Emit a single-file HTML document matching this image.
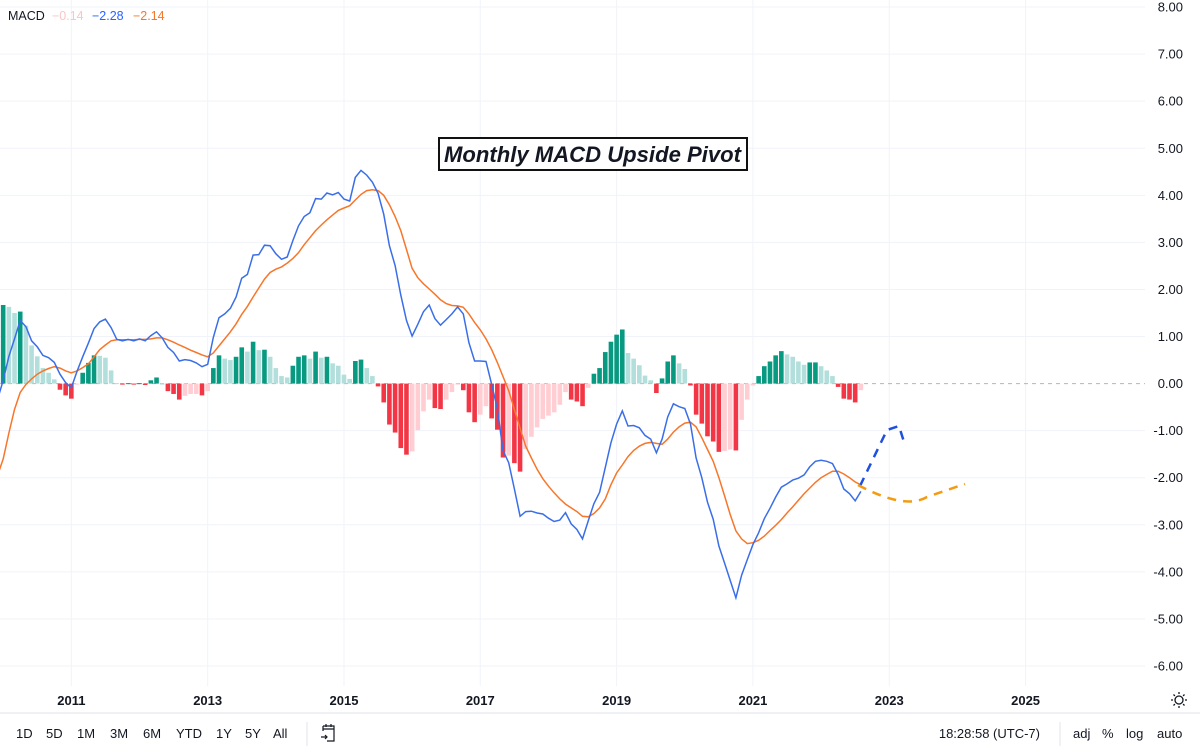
<!DOCTYPE html>
<html><head><meta charset="utf-8">
<style>
html,body{margin:0;padding:0;background:#fff;width:1200px;height:750px;overflow:hidden;font-family:"Liberation Sans",sans-serif;color:#131722}
svg{position:absolute;left:0;top:0}
</style></head>
<body>
<svg id="chart" width="1200" height="750"></svg>
<script>
const hist = [1.61,1.67,1.63,1.50,1.53,1.23,0.81,0.58,0.33,0.23,0.09,-0.13,-0.25,-0.32,-0.01,0.23,0.44,0.60,0.59,0.55,0.28,0.01,-0.02,0.01,-0.02,0.01,-0.03,0.07,0.13,0.00,-0.16,-0.22,-0.34,-0.26,-0.22,-0.22,-0.25,-0.16,0.33,0.60,0.53,0.50,0.57,0.77,0.68,0.89,0.71,0.72,0.57,0.33,0.16,0.13,0.38,0.57,0.60,0.53,0.68,0.55,0.57,0.43,0.38,0.19,0.10,0.48,0.51,0.33,0.16,-0.06,-0.40,-0.87,-1.04,-1.37,-1.51,-1.44,-0.99,-0.59,-0.34,-0.52,-0.54,-0.34,-0.18,-0.02,-0.14,-0.61,-0.82,-0.66,-0.48,-0.74,-0.98,-1.57,-1.53,-1.69,-1.87,-1.39,-1.13,-0.93,-0.75,-0.68,-0.61,-0.45,-0.18,-0.34,-0.38,-0.48,-0.09,0.21,0.33,0.67,0.89,1.04,1.15,0.65,0.53,0.39,0.17,0.07,-0.20,0.11,0.47,0.60,0.43,0.31,-0.04,-0.66,-0.85,-1.12,-1.23,-1.45,-1.43,-1.40,-1.42,-0.77,-0.34,-0.04,0.16,0.37,0.47,0.60,0.69,0.62,0.57,0.47,0.40,0.45,0.45,0.37,0.28,0.16,-0.07,-0.32,-0.34,-0.40,-0.14];
const macd = [-0.34,0.07,0.58,0.95,1.34,1.21,0.91,0.78,0.60,0.55,0.45,0.20,0.02,-0.09,0.26,0.57,0.86,1.17,1.31,1.37,1.19,0.94,0.91,0.94,0.91,0.95,0.91,1.02,1.10,0.97,0.77,0.66,0.48,0.51,0.49,0.44,0.36,0.41,0.98,1.40,1.48,1.60,1.84,2.24,2.32,2.73,2.74,2.94,2.93,2.76,2.64,2.69,3.04,3.35,3.55,3.63,3.93,3.92,4.05,4.01,4.06,3.92,3.88,4.38,4.53,4.43,4.28,4.04,3.60,2.93,2.51,1.88,1.34,1.01,1.26,1.53,1.67,1.38,1.24,1.36,1.48,1.63,1.48,0.87,0.48,0.48,0.47,-0.02,-0.53,-1.42,-1.68,-2.24,-2.82,-2.72,-2.71,-2.75,-2.77,-2.86,-2.93,-2.90,-2.74,-2.98,-3.10,-3.30,-2.92,-2.55,-2.31,-1.78,-1.26,-0.86,-0.58,-0.90,-0.89,-0.94,-1.10,-1.18,-1.47,-1.18,-0.71,-0.43,-0.49,-0.53,-0.86,-1.58,-2.00,-2.52,-2.88,-3.45,-3.81,-4.18,-4.55,-4.07,-3.74,-3.42,-3.17,-2.87,-2.65,-2.41,-2.20,-2.13,-2.05,-2.01,-1.94,-1.77,-1.65,-1.63,-1.65,-1.70,-1.93,-2.24,-2.34,-2.49,-2.29];
const signal = [-1.95,-1.60,-1.05,-0.55,-0.19,-0.02,0.10,0.20,0.27,0.32,0.36,0.33,0.27,0.23,0.27,0.34,0.42,0.57,0.72,0.82,0.91,0.93,0.93,0.93,0.93,0.94,0.94,0.95,0.97,0.97,0.93,0.88,0.82,0.77,0.71,0.66,0.61,0.57,0.65,0.80,0.95,1.10,1.27,1.47,1.64,1.84,2.03,2.22,2.36,2.43,2.48,2.56,2.66,2.78,2.95,3.10,3.25,3.37,3.48,3.58,3.68,3.73,3.78,3.90,4.02,4.10,4.12,4.10,4.00,3.80,3.55,3.25,2.85,2.45,2.25,2.12,2.01,1.90,1.78,1.70,1.66,1.65,1.62,1.48,1.30,1.14,0.95,0.72,0.45,0.15,-0.15,-0.55,-0.95,-1.33,-1.58,-1.82,-2.02,-2.18,-2.32,-2.45,-2.56,-2.64,-2.72,-2.82,-2.83,-2.76,-2.64,-2.45,-2.15,-1.90,-1.73,-1.55,-1.42,-1.33,-1.27,-1.25,-1.27,-1.29,-1.18,-1.03,-0.92,-0.84,-0.82,-0.92,-1.15,-1.40,-1.65,-2.00,-2.38,-2.78,-3.13,-3.30,-3.40,-3.38,-3.33,-3.24,-3.12,-3.01,-2.89,-2.75,-2.62,-2.48,-2.34,-2.22,-2.10,-2.00,-1.93,-1.86,-1.86,-1.92,-2.00,-2.09,-2.15];
const yTicks = [8,7,6,5,4,3,2,1,0,-1,-2,-3,-4,-5,-6];
const yearLabels = ["2011","2013","2015","2017","2019","2021","2023","2025"];
const firstYear = 2009; const firstMonth = 11; // index 0 = Dec 2009

const NS = "http://www.w3.org/2000/svg";
const svg = document.getElementById("chart");
function xMonth(i){ return -2.5 + 5.68 * i; }
function xYear(y){ return xMonth((y - firstYear) * 12 - firstMonth); }
function yVal(v){ return 383.6 - v * 47.07; }
function mk(tag, attrs, parent){ const e=document.createElementNS(NS,tag); for(const k in attrs) e.setAttribute(k,attrs[k]); (parent||svg).appendChild(e); return e; }

// grid
const grid = mk("g",{});


yTicks.forEach(v=>{ if(v!==0) mk("line",{x1:0,x2:1145,y1:yVal(v),y2:yVal(v),stroke:"#f0f3fa","stroke-width":1},grid); });
yearLabels.forEach(y=>{ const x=xYear(+y); mk("line",{x1:x,x2:x,y1:0,y2:686,stroke:"#f0f3fa","stroke-width":1},grid); });
mk("line",{x1:0,x2:1145,y1:yVal(0),y2:yVal(0),stroke:"#b2b5be","stroke-width":1,"stroke-dasharray":"4,4"},grid);

// histogram
const hg = mk("g",{});


hist.forEach((v,i)=>{
  const prev = i>0 ? hist[i-1] : v;
  let c;
  if(v>=0) c = v>=prev ? "#089981" : "#b2dfdb";
  else c = v<prev ? "#f23645" : "#ffcdd2";
  const y0=yVal(0), y1=yVal(v);
  const r = mk("rect",{x:xMonth(i)-2.3,y:Math.min(y0,y1),width:4.6,height:Math.max(1,Math.abs(y1-y0)),fill:c},hg);
  
  
});

function linePath(arr){ return arr.map((v,i)=>(i?"L":"M")+xMonth(i).toFixed(1)+","+yVal(v).toFixed(1)).join(" "); }
const sig = mk("path",{d:linePath(signal),fill:"none",stroke:"#f7762a","stroke-width":1.5});


const ml = mk("path",{d:linePath(macd),fill:"none",stroke:"#3a6ee8","stroke-width":1.5});



// projections (annotations)
const pb = mk("path",{d:"M860,486 L887,430 L899,426 L904,442",fill:"none",stroke:"#1f4fe0","stroke-width":2.5,"stroke-dasharray":"9,7"});


const po = mk("path",{d:"M858,485 Q905,510 927,497 Q947,490 965,484",fill:"none",stroke:"#f39c12","stroke-width":2.5,"stroke-dasharray":"9,7"});



// y-axis labels
const ya = mk("g",{});


yTicks.forEach(v=>{
  const t = mk("text",{x:1183,y:yVal(v)+4.5,"text-anchor":"end","font-size":"13",fill:"#131722"},ya);
  t.textContent = v.toFixed(2);
  
  
});
// x-axis labels
const xa = mk("g",{});


yearLabels.forEach(y=>{
  const t = mk("text",{x:xYear(+y),y:705,"text-anchor":"middle","font-size":"13","font-weight":"bold",fill:"#131722"},xa);
  t.textContent = y;
  
  
});
</script>
<svg width="1200" height="750" style="pointer-events:none">
  <g font-size="12.5">
    <text x="8" y="20" fill="#131722">MACD</text>
    <text x="52" y="20" fill="#f9c5c8">−0.14</text>
    <text x="92" y="20" fill="#2962ff">−2.28</text>
    <text x="133" y="20" fill="#f7762a">−2.14</text>
  </g>
  <g>
    <rect x="439" y="138" width="308" height="32" fill="#fff" stroke="#111" stroke-width="2"/>
    <text x="444" y="162" font-size="22" font-weight="bold" font-style="italic" fill="#131722" textLength="297" lengthAdjust="spacingAndGlyphs">Monthly MACD Upside Pivot</text>
  </g>
  <g stroke="#131722" fill="none" stroke-width="1.3">
    <circle cx="1179" cy="700" r="4"/>
    <path d="M1179,692v2 M1179,706v2 M1171,700h2 M1185,700h2 M1173.5,694.5l1.4,1.4 M1183.1,704.1l1.4,1.4 M1173.5,705.5l1.4,-1.4 M1183.1,695.9l1.4,-1.4"/>
  </g>
  <line x1="0" y1="713" x2="1200" y2="713" stroke="#e0e3eb"/>
  <g font-size="13" fill="#131722">
    <text x="16" y="738">1D</text>
    <text x="46" y="738">5D</text>
    <text x="77" y="738">1M</text>
    <text x="110" y="738">3M</text>
    <text x="143" y="738">6M</text>
    <text x="176" y="738">YTD</text>
    <text x="216" y="738">1Y</text>
    <text x="245" y="738">5Y</text>
    <text x="273" y="738">All</text>
  </g>
  <line x1="307" y1="722" x2="307" y2="746" stroke="#e0e3eb"/>
  <g stroke="#131722" fill="none" stroke-width="1.2">
    <path d="M323,726h11v15h-7 M323,726v5 M323,729h11 M326,724v3 M331,724v3 M321,737h6 M325,735l2,2l-2,2"/>
  </g>
  <text x="1040" y="738" text-anchor="end" font-size="13" fill="#131722">18:28:58 (UTC-7)</text>
  <line x1="1060" y1="722" x2="1060" y2="746" stroke="#e0e3eb"/>
  <g font-size="13" fill="#131722">
    <text x="1073" y="738">adj</text>
    <text x="1102" y="738">%</text>
    <text x="1126" y="738">log</text>
    <text x="1157" y="738">auto</text>
  </g>
</svg>
</body></html>
